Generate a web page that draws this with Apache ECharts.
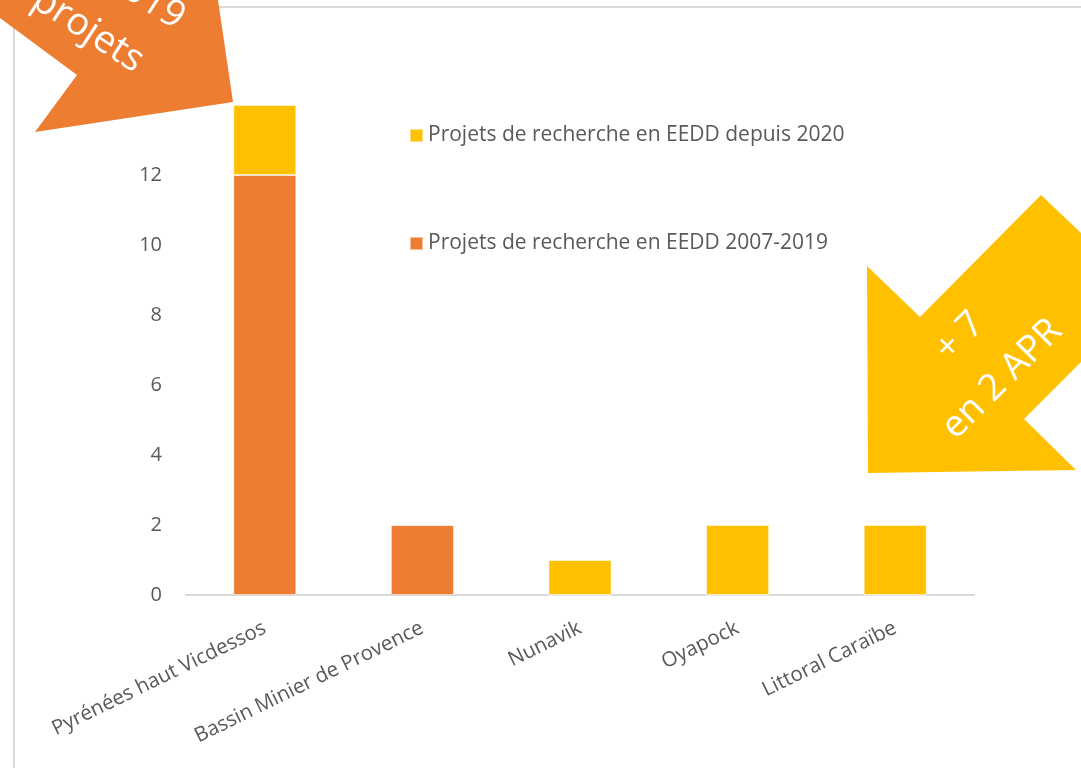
<!DOCTYPE html>
<html><head><meta charset="utf-8">
<script src="https://cdn.jsdelivr.net/npm/echarts@6/dist/echarts.min.js"></script>
<style>html,body{margin:0;padding:0;background:#fff}#c{width:1081px;height:768px}</style>
</head><body><div id="c"></div>
<script>
const categories = ['Pyrénées haut Vicdessos', 'Bassin Minier de Provence', 'Nunavik', 'Oyapock', 'Littoral Caraïbe'];
const seriesNames = ['Projets de recherche en EEDD 2007-2019', 'Projets de recherche en EEDD depuis 2020'];
const projets2007_2019 = [12, 2, 0, 0, 0];
const projetsDepuis2020 = [2, 0, 1, 2, 2];
const yTicks = [0, 2, 4, 6, 8, 10, 12, 14];

const FONT = 'Open Sans';
const chart = echarts.init(document.getElementById('c'), null, {renderer: 'canvas'});
chart.setOption({
  backgroundColor: '#fff',
  animation: false,
  textStyle: {fontFamily: FONT},
  grid: {left: 186, right: 107, top: 105, bottom: 173, containLabel: false},
  legend: {
    orient: 'vertical', left: 404, top: 120, itemGap: 87,
    itemWidth: 13, itemHeight: 13, icon: 'rect',
    textStyle: {color: '#595959', fontSize: 21, fontFamily: FONT},
    data: [seriesNames[1], seriesNames[0]]
  },
  xAxis: {
    type: 'category', data: categories,
    axisLine: {lineStyle: {color: '#d9d9d9', width: 2}},
    axisTick: {show: false},
    axisLabel: {rotate: 26, color: '#595959', fontSize: 20.5, margin: 32, interval: 0, fontFamily: FONT}
  },
  yAxis: {
    type: 'value', min: 0, max: yTicks[yTicks.length - 1], interval: 2,
    splitLine: {show: false}, axisLine: {show: false}, axisTick: {show: false},
    axisLabel: {color: '#595959', fontSize: 20, margin: 24, fontFamily: FONT}
  },
  series: [
    {name: seriesNames[0], type: 'bar', stack: 's', data: projets2007_2019, barWidth: '40%',
     itemStyle: {color: '#ed7d31', borderColor: 'rgba(255,255,255,0.5)', borderWidth: 1}},
    {name: seriesNames[1], type: 'bar', stack: 's', data: projetsDepuis2020, barWidth: '40%',
     itemStyle: {color: '#ffc000', borderColor: 'rgba(255,255,255,0.5)', borderWidth: 1}}
  ],
  graphic: [
    {type: 'line', z: 1, shape: {x1: 14, y1: 7, x2: 1081, y2: 7}, style: {stroke: '#d9d9d9', lineWidth: 2}},
    {type: 'line', z: 1, shape: {x1: 14, y1: 7, x2: 14, y2: 768}, style: {stroke: '#d9d9d9', lineWidth: 2}},
    {type: 'polygon', z: 100, shape: {points: [[0,0],[218,0],[233,102],[35,132],[77,75],[0,18]]}, style: {fill: '#ed7d31'}},
    {type: 'text', z: 101, x: 181, y: 21, rotation: -33 * Math.PI / 180,
     style: {text: '2007-2019', fill: '#fff', font: '38px ' + FONT, align: 'right', verticalAlign: 'middle'}},
    {type: 'text', z: 101, x: 140, y: 64, rotation: -33 * Math.PI / 180,
     style: {text: 'projets', fill: '#fff', font: '38px ' + FONT, align: 'right', verticalAlign: 'middle'}},
    {type: 'polygon', z: 100, shape: {points: [[1041,195],[1081,233],[1081,362],[1024,419],[1076,470],[868,473],[867,266],[920,317]]}, style: {fill: '#ffc000'}},
    {type: 'text', z: 101, x: 981, y: 358, rotation: 45 * Math.PI / 180,
     style: {text: '+ 7\nen 2 APR', fill: '#fff', font: '37px ' + FONT, align: 'center', verticalAlign: 'middle', lineHeight: 60}}
  ]
});
</script></body></html>
